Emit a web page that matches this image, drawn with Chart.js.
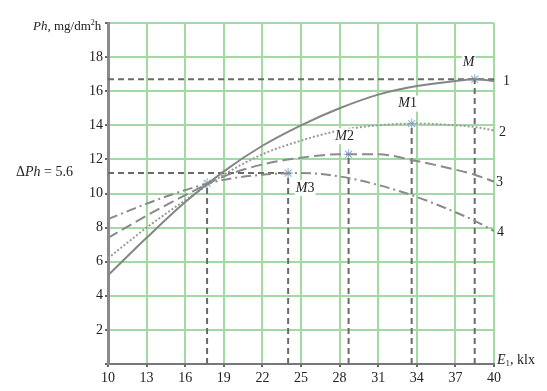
<!DOCTYPE html>
<html>
<head>
<meta charset="utf-8">
<script src="https://cdn.jsdelivr.net/npm/chart.js@4/dist/chart.umd.min.js"></script>
<style>
  html, body { margin: 0; padding: 0; background: #fff; }
  #wrap { width: 547px; height: 391px; position: relative; }
</style>
</head>
<body>
<div id="wrap"><canvas id="chart"></canvas></div>
<script>
// illumination E1, klx
const xValues = [10, 13, 16, 19, 22, 25, 28, 31, 34, 37, 38.5, 40];
const curve1 = [5.2, 7.4, 9.5, 11.3, 12.8, 14.0, 15.0, 15.8, 16.3, 16.6, 16.7, 16.6];
const curve2 = [6.2, 8.0, 9.6, 11.1, 12.3, 13.1, 13.7, 14.0, 14.1, 14.0, 13.9, 13.7];
const curve3 = [7.4, 8.7, 9.9, 11.0, 11.7, 12.1, 12.3, 12.3, 11.9, 11.4, 11.1, 10.7];
const curve4 = [8.5, 9.4, 10.2, 10.8, 11.1, 11.2, 11.0, 10.5, 9.8, 8.9, 8.4, 7.8];
const curveNames = ["1", "2", "3", "4"];

// optimum points
const pointNames = ["M", "M1", "M2", "M3"];
const pointX = [38.5, 33.6, 28.7, 24.0];
const pointY = [16.7, 14.1, 12.3, 11.2];
const crossX = 17.7;
const crossY = 10.6;

const xTicks = [10, 13, 16, 19, 22, 25, 28, 31, 34, 37, 40];
const yTicks = [0, 2, 4, 6, 8, 10, 12, 14, 16, 18, 20];

const serif = "'Liberation Serif', 'DejaVu Serif', serif";

function pts(ys) {
    return xValues.map(function (x, i) { return { x: x, y: ys[i] }; });
}

const curveStyles = [
    { color: "#858585", dash: [] },
    { color: "#9a9a9a", dash: [2, 2] },
    { color: "#8a8a8a", dash: [11, 5] },
    { color: "#8a8a8a", dash: [10, 4, 2, 4] }
];

const datasets = [];
[curve1, curve2, curve3, curve4].forEach(function (c, i) {
    datasets.push({
        label: "curve " + curveNames[i],
        data: pts(c),
        borderColor: curveStyles[i].color,
        borderDash: curveStyles[i].dash,
        borderWidth: 2,
        pointRadius: 0,
        cubicInterpolationMode: "monotone",
        fill: false
    });
});

const refStyle = {
    borderColor: "#6a6a6a",
    borderDash: [6, 4],
    borderWidth: 2,
    pointRadius: 0,
    fill: false,
    tension: 0
};

// horizontal guides
datasets.push(Object.assign({ label: "max", data: [{ x: 10, y: pointY[0] }, { x: 40, y: pointY[0] }] }, refStyle));
datasets.push(Object.assign({ label: "min", data: [{ x: 10, y: pointY[3] }, { x: pointX[3], y: pointY[3] }] }, refStyle));

// vertical guides
pointX.concat([crossX]).forEach(function (x, i) {
    const y = i < pointY.length ? pointY[i] : crossY;
    datasets.push(Object.assign({ label: "v" + i, data: [{ x: x, y: 0 }, { x: x, y: y }] }, refStyle));
});

// star markers
datasets.push({
    label: "markers",
    type: "scatter",
    data: pointX.map(function (x, i) { return { x: x, y: pointY[i] }; }).concat([{ x: crossX, y: crossY }]),
    pointStyle: "star",
    pointRadius: 5,
    borderColor: "#9ab8d8",
    borderWidth: 1.2,
    backgroundColor: "#9ab8d8"
});

const textPlugin = {
    id: "texts",
    afterDraw: function (chart) {
        const ctx = chart.ctx;
        const xs = chart.scales.x;
        const ys = chart.scales.y;
        ctx.save();
        ctx.fillStyle = "#222";
        ctx.textBaseline = "middle";

        // axis title Y
        let x = 33;
        const y0 = 27;
        ctx.font = "italic 13px " + serif;
        ctx.textAlign = "left";
        ctx.fillText("Ph", x, y0);
        x += ctx.measureText("Ph").width;
        ctx.font = "13px " + serif;
        ctx.fillText(", mg/dm", x, y0);
        x += ctx.measureText(", mg/dm").width;
        ctx.font = "8px " + serif;
        ctx.fillText("2", x, y0 - 4);
        x += ctx.measureText("2").width;
        ctx.font = "13px " + serif;
        ctx.fillText("h", x, y0);

        // axis title X
        x = 497;
        const y1 = 360;
        ctx.font = "italic 14px " + serif;
        ctx.fillText("E", x, y1);
        x += ctx.measureText("E").width;
        ctx.font = "9px " + serif;
        ctx.fillText("1", x, y1 + 4);
        x += ctx.measureText("1").width;
        ctx.font = "14px " + serif;
        ctx.fillText(", klx", x, y1);

        // delta label
        x = 16;
        const y2 = 172;
        ctx.font = "14px " + serif;
        ctx.fillText("\u0394", x, y2);
        x += ctx.measureText("\u0394").width;
        ctx.font = "italic 14px " + serif;
        ctx.fillText("Ph", x, y2);
        x += ctx.measureText("Ph").width;
        ctx.font = "14px " + serif;
        ctx.fillText(" = 5.6", x, y2);

        // M labels
        const offs = [[-6, -17], [-4, -20], [-4, -18], [17, 15]];
        pointNames.forEach(function (name, i) {
            const px = xs.getPixelForValue(pointX[i]) + offs[i][0];
            const py = ys.getPixelForValue(pointY[i]) + offs[i][1];
            const letter = name.charAt(0);
            const rest = name.slice(1);
            ctx.font = "italic 14px " + serif;
            const w1 = ctx.measureText(letter).width;
            ctx.font = "14px " + serif;
            const w2 = ctx.measureText(rest).width;
            let sx = px - (w1 + w2) / 2;
            ctx.fillStyle = "#fff";
            ctx.fillRect(sx - 1, py - 8, w1 + w2 + 2, 16);
            ctx.fillStyle = "#222";
            ctx.font = "italic 14px " + serif;
            ctx.fillText(letter, sx, py);
            ctx.font = "14px " + serif;
            ctx.fillText(rest, sx + w1, py);
        });

        // curve numbers
        const ends = [curve1, curve2, curve3, curve4];
        const nOffs = [[9, 0], [5, 2], [2, 1], [3, 1]];
        ctx.font = "14px " + serif;
        ends.forEach(function (c, i) {
            const px = xs.getPixelForValue(40) + nOffs[i][0];
            const py = ys.getPixelForValue(c[c.length - 1]) + nOffs[i][1];
            ctx.fillText(curveNames[i], px, py);
        });
        ctx.restore();
    }
};

new Chart(document.getElementById("chart"), {
    type: "line",
    data: { datasets: datasets },
    options: {
        responsive: true,
        maintainAspectRatio: false,
        animation: false,
        layout: { padding: { left: 0, right: 53, top: 23, bottom: 0 } },
        plugins: {
            legend: { display: false },
            tooltip: { enabled: false }
        },
        scales: {
            x: {
                type: "linear",
                min: 10,
                max: 40,
                afterBuildTicks: function (scale) {
                    scale.ticks = xTicks.map(function (v) { return { value: v }; });
                },
                afterFit: function (scale) { scale.height = 27; },
                grid: {
                    color: "#a3d9a3",
                    lineWidth: 2,
                    tickLength: 3,
                    tickColor: "#666"
                },
                border: { color: "#777", width: 2 },
                ticks: {
                    color: "#222",
                    font: { family: serif, size: 14 },
                    padding: 3,
                    maxRotation: 0
                }
            },
            y: {
                type: "linear",
                min: 0,
                max: 20,
                afterBuildTicks: function (scale) {
                    scale.ticks = yTicks.map(function (v) { return { value: v }; });
                },
                afterFit: function (scale) { scale.width = 108; },
                grid: {
                    color: "#a3d9a3",
                    lineWidth: 2,
                    tickLength: 3,
                    tickColor: "#666"
                },
                border: { color: "#8a8a8a", width: 3 },
                ticks: {
                    color: "#222",
                    font: { family: serif, size: 14 },
                    padding: 2,
                    callback: function (v) { return (v === 0 || v === 20) ? "" : v; }
                }
            }
        }
    },
    plugins: [textPlugin]
});
</script>
</body>
</html>
